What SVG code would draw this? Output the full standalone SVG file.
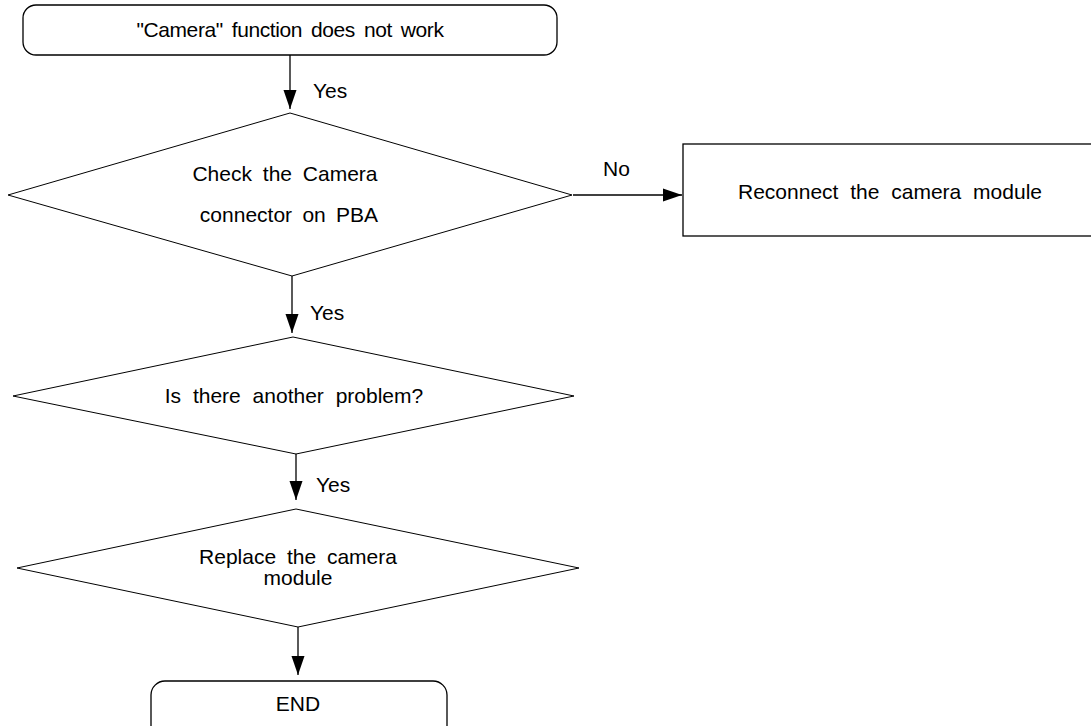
<svg xmlns="http://www.w3.org/2000/svg" width="1091" height="726" viewBox="0 0 1091 726">
<style>
  .shape { fill: #ffffff; stroke: #000000; stroke-width: 1.3; }
  .dia { fill: #ffffff; stroke: #000000; stroke-width: 1; }
  .conn { fill: none; stroke: #000000; stroke-width: 1.3; marker-end: url(#arrow); }
  text { font-family: "Liberation Sans", Arial, sans-serif; font-size: 21px; fill: #000000; }
  .c { text-anchor: middle; }
</style>
<defs>
  <marker id="arrow" markerUnits="userSpaceOnUse" markerWidth="20" markerHeight="14" viewBox="0 0 20 14" refX="19" refY="7" orient="auto">
    <path d="M0,0.5 L19,7 L0,13.5 Z" fill="#000000"/>
  </marker>
</defs>
<rect width="1091" height="726" fill="#ffffff"/>
<g id="connectors">
  <line class="conn" x1="290" y1="55" x2="290" y2="109"/>
  <line class="conn" x1="292" y1="276" x2="292" y2="333"/>
  <line class="conn" x1="296" y1="449" x2="296" y2="500"/>
  <line class="conn" x1="298" y1="627" x2="298" y2="675"/>
  <line class="conn" x1="573" y1="195" x2="682" y2="195"/>
  <text x="313" y="98">Yes</text>
  <text x="310" y="320">Yes</text>
  <text x="316" y="492">Yes</text>
  <text x="603" y="176">No</text>
</g>
<g id="start">
  <rect class="shape" x="23" y="5" width="534" height="50" rx="13" ry="13"/>
  <text class="c" x="290" y="37" word-spacing="3.5" letter-spacing="-0.4">"Camera" function does not work</text>
</g>
<g id="check">
  <polygon class="dia" points="290,113 572,195 292,276 8,195"/>
  <text class="c" x="285" y="181" word-spacing="5">Check the Camera</text>
  <text class="c" x="289" y="222" word-spacing="4.5">connector on PBA</text>
</g>
<g id="reconnect">
  <rect class="shape" x="683" y="144" width="420" height="92"/>
  <text class="c" x="890" y="199" word-spacing="6">Reconnect the camera module</text>
</g>
<g id="another">
  <polygon class="dia" points="293,337 574,396 296,454 13,396"/>
  <text class="c" x="294" y="403" word-spacing="6">Is there another problem?</text>
</g>
<g id="replace">
  <polygon class="dia" points="296,509 579,568 298,627 17,568"/>
  <text class="c" x="298" y="564" word-spacing="5">Replace the camera</text>
  <text class="c" x="298" y="585">module</text>
</g>
<g id="end">
  <rect class="shape" x="151" y="681" width="296" height="60" rx="14" ry="14"/>
  <text class="c" x="298" y="711">END</text>
</g>
</svg>
